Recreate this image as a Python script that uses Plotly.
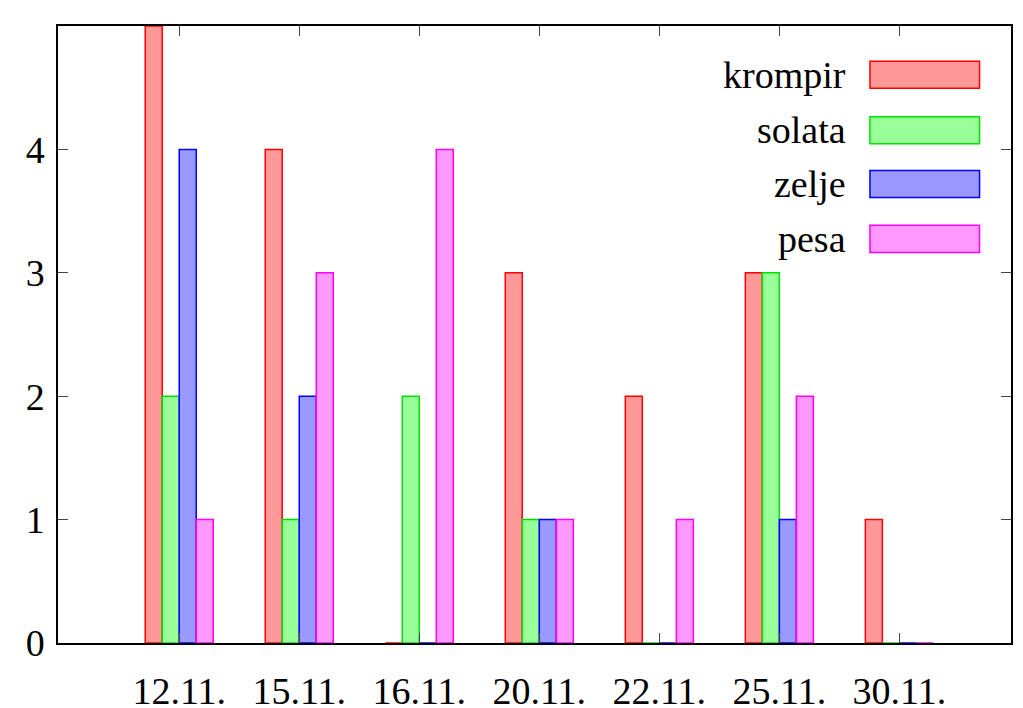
import plotly.graph_objects as go

categories = ["12.11.", "15.11.", "16.11.", "20.11.", "22.11.", "25.11.", "30.11."]
krompir = [5, 4, 0, 3, 2, 3, 1]
solata = [2, 1, 2, 1, 0, 3, 0]
zelje = [4, 2, 0, 1, 0, 1, 0]
pesa = [1, 3, 4, 1, 1, 2, 0]
yticks = [0, 1, 2, 3, 4, 5]

series = [("krompir", krompir, "rgba(255,0,0,0.4)", "#ff0000"),
          ("solata", solata, "rgba(0,255,0,0.4)", "#00e000"),
          ("zelje", zelje, "rgba(0,0,255,0.4)", "#0000ff"),
          ("pesa", pesa, "rgba(255,0,255,0.4)", "#ff00ff")]

FAM = "Liberation Serif"
font = dict(family=FAM, size=38, color="black")

xs = list(range(len(categories)))
fig = go.Figure()
for name, vals, fill, edge in series:
    fig.add_bar(x=xs, y=vals, name=name, marker=dict(color=fill, line=dict(color=edge, width=1.5)),
                showlegend=False)

rows = [0.921, 0.831, 0.744, 0.655]
for (name, vals, fill, edge), yy in zip(series, rows):
    fig.add_annotation(x=0.829, y=yy, xref="paper", yref="paper", text=name, showarrow=False,
                       xanchor="right", yanchor="middle", font=font)
    fig.add_shape(type="rect", xref="paper", yref="paper", x0=0.852, x1=0.967,
                  y0=yy - 0.022, y1=yy + 0.022, fillcolor=fill, line=dict(color=edge, width=1.5))

fig.update_layout(width=1023, height=708, margin=dict(l=50, r=20, t=18, b=73, autoexpand=False),
                  barmode="group", bargap=0.433, bargroupgap=0,
                  plot_bgcolor="white", paper_bgcolor="white", font=font)
fig.update_xaxes(range=[-1.01, 6.93], tickvals=xs, ticktext=categories, ticks="inside",
                 ticklen=10, mirror="ticks", showline=True, linecolor="black", linewidth=1.5,
                 showgrid=False, zeroline=False, ticklabelstandoff=14, automargin=False,
                 tickfont=font)
fig.update_yaxes(range=[0, 5], tickvals=yticks, ticks="inside", ticklen=10, mirror="ticks",
                 showline=True, linecolor="black", linewidth=1.5, showgrid=False,
                 zeroline=False, ticklabelstandoff=4, automargin=False, tickfont=font)
fig.write_html("out.html")
